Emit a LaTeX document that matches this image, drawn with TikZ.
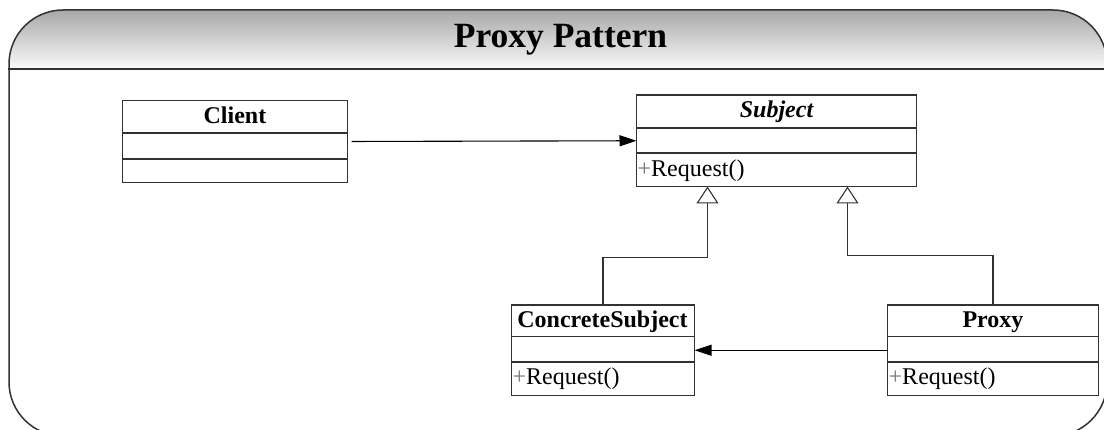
\documentclass[tikz,border=0pt]{standalone}
\usepackage{fontspec}
\setmainfont{Liberation Serif}
\usetikzlibrary{arrows.meta}
\definecolor{linec}{RGB}{50,50,50}
\definecolor{headtop}{RGB}{168,168,168}
\definecolor{headbot}{RGB}{250,250,250}
\tikzset{
  cls/.style={draw=linec, line width=1.2pt, inner sep=0pt, outer sep=0pt, fill=white},
  divider/.style={draw=linec, line width=1.2pt},
  lbl/.style={inner sep=0pt, font=\fontsize{24}{24}\selectfont},
  lblb/.style={inner sep=0pt, font=\fontsize{24}{24}\selectfont\bfseries},
  assoc/.style={draw=black, line width=1.1pt, -{Triangle[length=17pt,width=11pt]}},
  inh/.style={draw=linec, line width=1.1pt, -{Triangle[open,length=17pt,width=22pt,fill=white]}},
}
\begin{document}
\begin{tikzpicture}[x=1pt,y=-1pt]
\useasboundingbox (0,0) rectangle (1104,430);
% frame with gradient header
\begin{scope}
  \clip (9,10) [rounded corners=54pt] rectangle (1107,436);
  \shade[top color=headtop, bottom color=headbot] (0,10) rectangle (1110,69);
\end{scope}
\node[draw=linec, line width=1.5pt, rounded corners=54pt, minimum width=1098pt, minimum height=426pt, inner sep=0pt] (frame) at (558,223) {};
\draw[linec, line width=1.5pt] (frame.west |- 0,69) -- (frame.east |- 0,69);
\node[inner sep=0pt, anchor=base, font=\fontsize{35.5}{35.5}\selectfont\bfseries] (title) at (560.5,48) {Proxy Pattern};

% Client
\node[cls, minimum width=225pt, minimum height=82pt] (client) at (235,141.5) {};
\draw[divider] (client.west |- 0,133) -- (client.east |- 0,133);
\draw[divider] (client.west |- 0,159) -- (client.east |- 0,159);
\node[lblb, anchor=base] (clientname) at (235,124) {Client};

% Subject
\node[cls, minimum width=280pt, minimum height=91.5pt] (subject) at (776.5,140.75) {};
\draw[divider] (subject.west |- 0,128) -- (subject.east |- 0,128);
\draw[divider] (subject.west |- 0,153) -- (subject.east |- 0,153);
\node[lblb, anchor=base, font=\fontsize{24}{24}\selectfont\bfseries\itshape] (subjectname) at (776.5,118) {Subject};
\node[lbl, anchor=base west] (subjectop) at (637.5,176.5) {{\color{black!55}+}Request()};

% ConcreteSubject
\node[cls, minimum width=183pt, minimum height=90.5pt] (concrete) at (603,350.25) {};
\draw[divider] (concrete.west |- 0,336.5) -- (concrete.east |- 0,336.5);
\draw[divider] (concrete.west |- 0,362) -- (concrete.east |- 0,362);
\node[lblb, anchor=base] (concretename) at (602.5,327.5) {ConcreteSubject};
\node[lbl, anchor=base west] (concreteop) at (512.5,384.5) {{\color{black!55}+}Request()};

% Proxy
\node[cls, minimum width=211pt, minimum height=90.5pt] (proxy) at (993,350.25) {};
\draw[divider] (proxy.west |- 0,336.5) -- (proxy.east |- 0,336.5);
\draw[divider] (proxy.west |- 0,362) -- (proxy.east |- 0,362);
\node[lblb, anchor=base] (proxyname) at (993,327.5) {Proxy};
\node[lbl, anchor=base west] (proxyop) at (888.5,384.5) {{\color{black!55}+}Request()};

% connectors
\coordinate (t1) at ([xshift=71pt]subject.south west);
\coordinate (t2) at ([xshift=211pt]subject.south west);
\draw[assoc, shorten <=4pt] (client.east) -- (subject.west);
\draw[assoc] (proxy.west) -- (concrete.east);
\draw[inh] (concrete.north) -- ++(0,-47.5) -| (t1);
\draw[inh] (proxy.north) -- ++(0,-49.5) -| (t2);
\end{tikzpicture}
\end{document}
